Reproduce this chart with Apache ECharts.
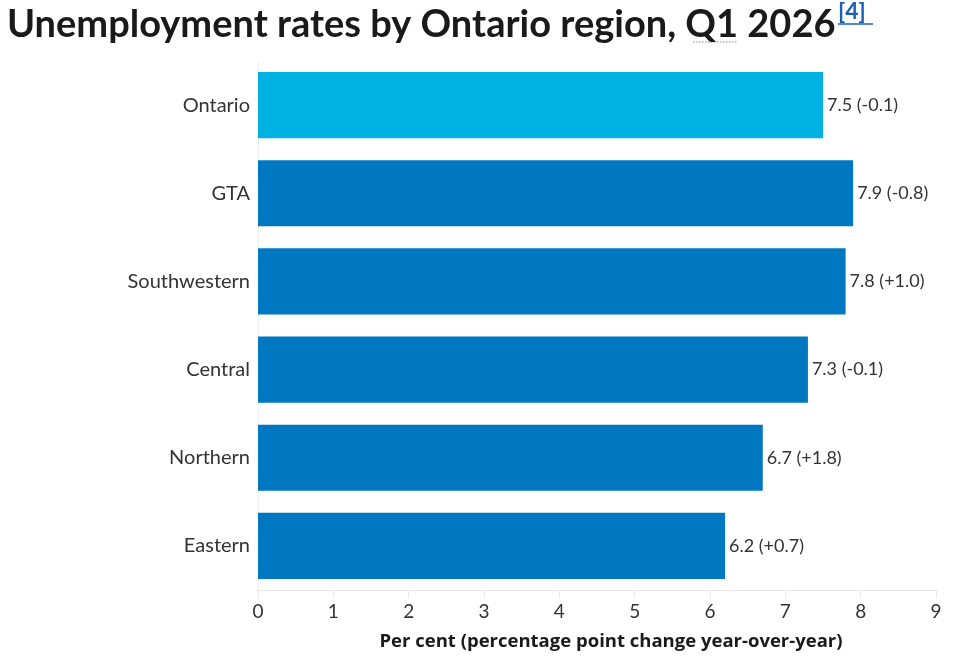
<!DOCTYPE html>
<html>
<head>
<meta charset="utf-8">
<script src="https://cdn.jsdelivr.net/npm/echarts@6/dist/echarts.min.js"></script>
<style>
  html, body { margin: 0; padding: 0; background: #fff; }
  #chart { width: 967px; height: 661px; }
</style>
</head>
<body>
<div id="chart"></div>
<script>
// regions, top to bottom as drawn
var regions = ['Ontario', 'GTA', 'Southwestern', 'Central', 'Northern', 'Eastern'];
var rates = [7.5, 7.9, 7.8, 7.3, 6.7, 6.2];
var changes = ['-0.1', '-0.8', '+1.0', '-0.1', '+1.8', '+0.7'];
var barColors = ['#00b2e3', '#0077c1', '#0077c1', '#0077c1', '#0077c1', '#0077c1'];

var chart = echarts.init(document.getElementById('chart'));

// category axis is inverted so list order = top to bottom
var seriesData = rates.map(function (v, i) {
    return { value: v, itemStyle: { color: barColors[i] } };
});

var option = {
    animation: false,
    title: {
        text: 'Unemployment rates by Ontario region, Q1 2026',
        left: 2,
        top: 1,
        textStyle: {
            fontFamily: 'Lato',
            fontWeight: 'bold',
            fontSize: 38,
            color: '#1a1a1a'
        }
    },
    graphic: [
        {
            type: 'text',
            left: 838,
            top: 0,
            style: { text: '[4]', font: 'bold 23px Lato', fill: '#1a5fb4' }
        },
        {
            type: 'line',
            shape: { x1: 838, y1: 24, x2: 873, y2: 24 },
            style: { stroke: '#1a5fb4', lineWidth: 1.5 }
        },
        {
            type: 'line',
            shape: { x1: 693, y1: 42, x2: 738, y2: 42 },
            style: { stroke: '#888', lineWidth: 1, lineDash: [1.5, 1.5] }
        }
    ],
    grid: {
        left: 258,
        right: 31,
        top: 61,
        bottom: 71,
        containLabel: false
    },
    xAxis: {
        type: 'value',
        min: 0,
        max: 9,
        interval: 1,
        name: 'Per cent (percentage point change year-over-year)',
        nameLocation: 'middle',
        nameGap: 42,
        nameTextStyle: {
            fontFamily: 'Open Sans',
            fontWeight: 'bold',
            fontSize: 18.5,
            color: '#1a1a1a',
            padding: [0, 0, 0, 28]
        },
        axisLine: { show: true, lineStyle: { color: '#e8e8e8' } },
        axisTick: { show: true, length: 8, lineStyle: { color: '#e8e8e8' } },
        splitLine: { show: false },
        axisLabel: {
            fontFamily: 'Lato',
            fontSize: 19,
            color: '#333',
            margin: 12
        }
    },
    yAxis: {
        type: 'category',
        data: regions,
        inverse: true,
        axisLine: { show: true, lineStyle: { color: '#eeeeee' } },
        axisTick: { show: false },
        axisLabel: {
            fontFamily: 'Lato',
            fontSize: 20,
            color: '#333',
            margin: 8
        }
    },
    series: [
        {
            type: 'bar',
            data: seriesData,
            barCategoryGap: '25%',
            label: {
                show: true,
                position: 'right',
                distance: 4,
                fontFamily: 'Lato',
                fontSize: 18,
                color: '#333',
                formatter: function (p) {
                    return p.value.toFixed(1) + ' (' + changes[p.dataIndex] + ')';
                }
            }
        }
    ]
};

chart.setOption(option);
</script>
</body>
</html>
